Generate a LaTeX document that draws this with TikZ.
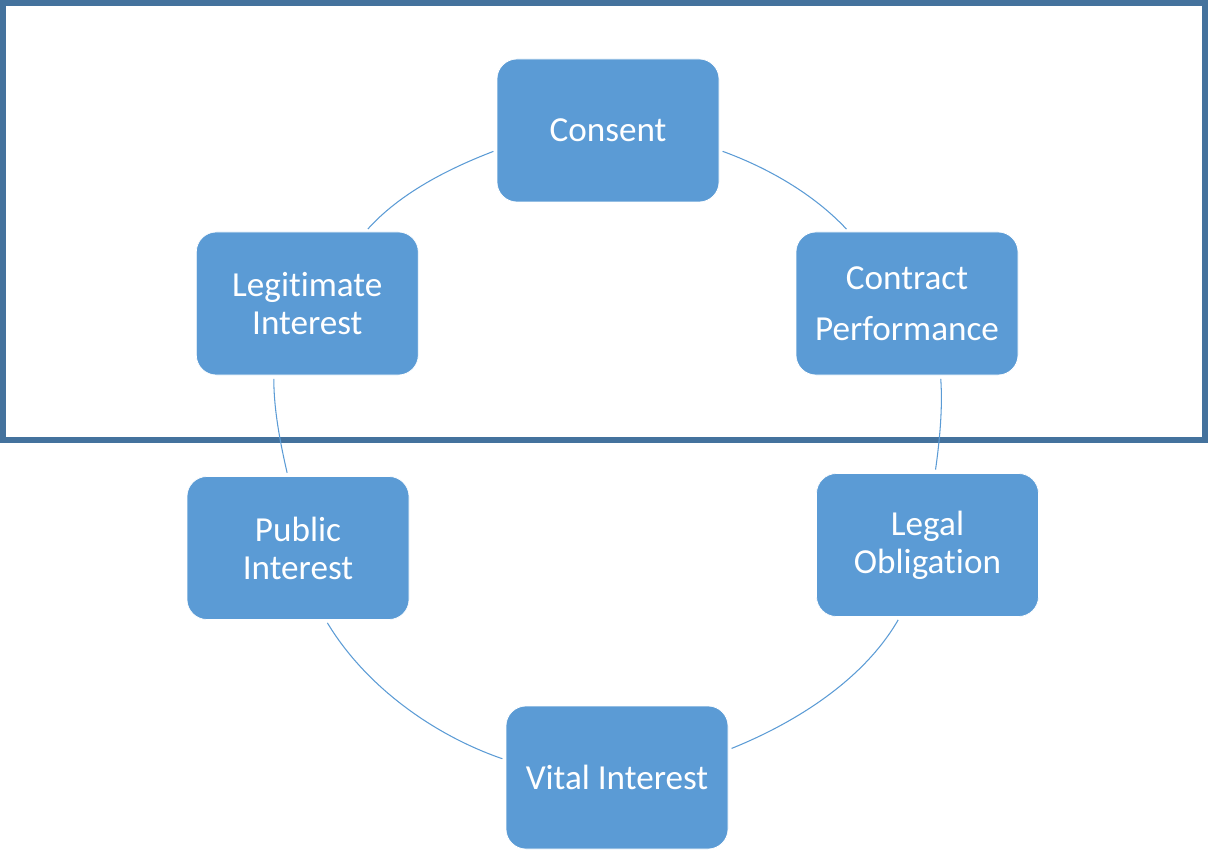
\documentclass[tikz,border=0pt]{standalone}
\usepackage{fontspec}
\setmainfont[Ligatures=NoCommon]{Carlito}
\usepackage{tikz}
\usetikzlibrary{positioning}

\definecolor{boxblue}{HTML}{5B9BD5}
\definecolor{frameblue}{HTML}{44729D}

\begin{document}
\begin{tikzpicture}
\tikzset{basis/.style={draw=white,line width=0.4pt,fill=boxblue,rounded corners=0.4cm,minimum width=4.44cm,minimum height=2.86cm,inner sep=0pt,text=white,align=center,font=\fontsize{20}{21.6}\selectfont},
  link/.style={boxblue,line width=0.6pt,looseness=0.86,shorten <=0.07cm,shorten >=0.07cm}}
\useasboundingbox (0,0) rectangle (24.16,17.02);

% box around the upper half
\draw[frameblue,line width=0.12cm](0.06,8.22) rectangle (24.10,16.96);

\node[basis](1) at (12.16,14.41){Consent};
\node[basis,font=\fontsize{20}{29}\selectfont](2) at (18.14,10.95){Contract\\Performance};
\node[basis](3) at (18.55,6.12){Legal\\Obligation};
\node[basis](4) at (12.34,1.47){Vital Interest};
\node[basis](5) at (5.96,6.06){Public\\Interest};
\node[basis](6)[left=7.54cm of 2]{Legitimate\\Interest};

% arcs of the ring, clockwise
\draw[link](1.-10) to[out=-20,in=133] (2.129);
\draw[link](2.-65) to[out=-86,in=82] (3.84);
\draw[link](3.-111) to[out=-120,in=22] (4.14);
\draw[link](4.171) to[out=161,in=-59] (5.-69);
\draw[link](5.98) to[out=103,in=-90] (6.-115);
\draw[link](6.51) to[out=48,in=-159] (1.-170);

\end{tikzpicture}
\end{document}
